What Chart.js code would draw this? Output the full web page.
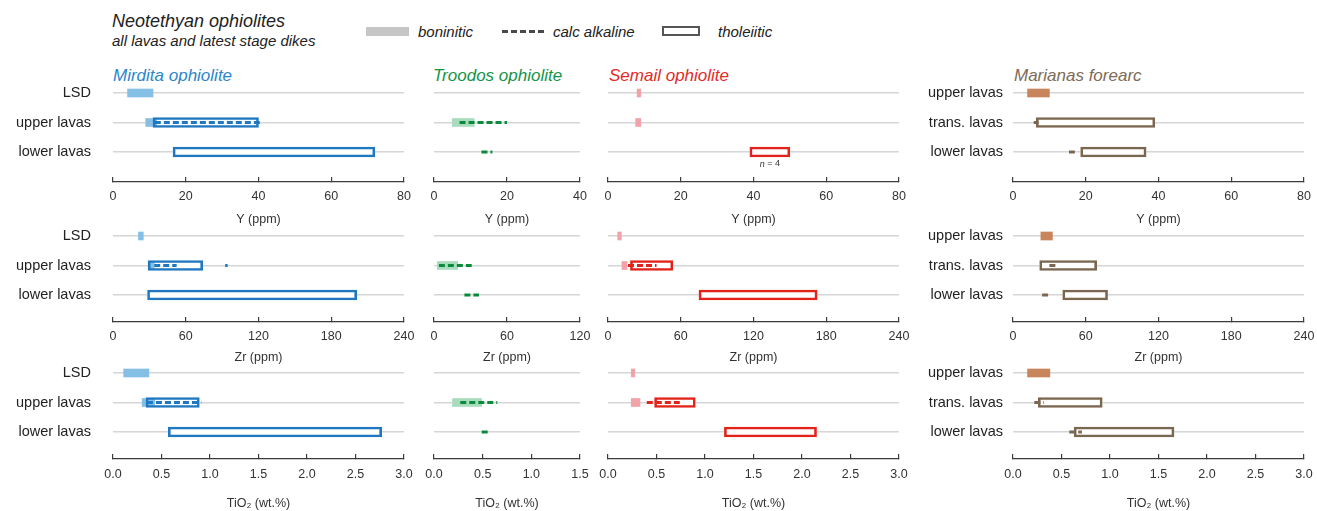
<!DOCTYPE html>
<html>
<head>
<meta charset="utf-8">
<title>Neotethyan ophiolites</title>
<script src="https://cdn.jsdelivr.net/npm/chart.js@4.4.1/dist/chart.umd.min.js"></script>
<style>
  body { margin: 0; width: 1317px; height: 511px; background: #fff; position: relative; overflow: hidden;
         font-family: 'Liberation Sans', Arial, Helvetica, sans-serif; color: #222; }
  .t { position: absolute; white-space: nowrap; line-height: 1; }
  .it { font-style: italic; }
  .sw { position: absolute; box-sizing: border-box; }
</style>
</head>
<body>

<div class="t it" style="left:112px; top:12px; font-size:18px;">Neotethyan ophiolites</div>
<div class="t it" style="left:112px; top:33px; font-size:15px;">all lavas and latest stage dikes</div>

<div class="sw" style="left:366px; top:27px; width:43px; height:9px; background:#c6c6c6;"></div>
<div class="t it" style="left:418px; top:24px; font-size:15px;">boninitic</div>
<div class="sw" style="left:502px; top:30px; width:42px; height:3px; background:repeating-linear-gradient(90deg,#4a4a4a 0 6px,transparent 6px 9px);"></div>
<div class="t it" style="left:553px; top:24px; font-size:15px;">calc alkaline</div>
<div class="sw" style="left:662px; top:26px; width:38px; height:10px; border:2px solid #555;"></div>
<div class="t it" style="left:718px; top:24px; font-size:15px;">tholeiitic</div>

<div class="t it" style="left:113px; top:67px; font-size:17px; color:#2b87c9;">Mirdita ophiolite</div>
<div class="t it" style="left:433px; top:67px; font-size:17px; color:#149447;">Troodos ophiolite</div>
<div class="t it" style="left:609px; top:67px; font-size:17px; color:#e32b26;">Semail ophiolite</div>
<div class="t it" style="left:1014px; top:67px; font-size:17px; color:#7e6b57;">Marianas forearc</div>

<script>
// row labels (index 0 = top row)
const rowLabelsOphiolite = ['LSD', 'upper lavas', 'lower lavas'];
const rowLabelsForearc = ['upper lavas', 'trans. lavas', 'lower lavas'];
const rowIndex = [0, 1, 2];

// axis ranges per column: Mirdita, Troodos, Semail, Marianas
const axisMaxY = [80, 40, 80, 80];
const axisStepY = [20, 20, 20, 20];
const axisMaxZr = [240, 120, 240, 240];
const axisStepZr = [60, 60, 60, 60];
const axisMaxTi = [3.0, 1.5, 3.0, 3.0];
const axisStepTi = [0.5, 0.5, 0.5, 0.5];
const axisTitles = ['Y (ppm)', 'Zr (ppm)', 'TiO\u2082 (wt.%)'];

// ranges as [row, low, high]
// Y (ppm)
const mirditaYBon = [[0, 4, 11], [1, 9, 12]];
const mirditaYCalc = [[1, 11.5, 41]];
const mirditaYThol = [[1, 11, 40], [2, 16.5, 72]];
const troodosYBon = [[1, 5, 11]];
const troodosYCalc = [[1, 7, 20], [2, 13, 16]];
const troodosYThol = [];
const semailYBon = [[0, 8, 9], [1, 7.6, 9]];
const semailYCalc = [];
const semailYThol = [[2, 39, 50]];
const semailYNote = { row: 2, x: 44.5, italic: 'n', text: ' = 4' };
const marianasYBon = [[0, 4, 10]];
const marianasYCalc = [[1, 5.7, 7], [2, 15.4, 17]];
const marianasYThol = [[1, 6.4, 39], [2, 18.6, 36.6]];

// Zr (ppm)
const mirditaZrBon = [[0, 21, 25], [1, 29, 34]];
const mirditaZrCalc = [[1, 34, 52.5], [1, 92.5, 94.5]];
const mirditaZrThol = [[1, 29, 74], [2, 28.5, 201]];
const troodosZrBon = [[1, 2.7, 19.5]];
const troodosZrCalc = [[1, 4, 31], [2, 25, 37]];
const troodosZrThol = [];
const semailZrBon = [[0, 8, 11], [1, 11.5, 15.7]];
const semailZrCalc = [[1, 16.5, 40]];
const semailZrThol = [[1, 18.5, 53.5], [2, 75, 172.5]];
const marianasZrBon = [[0, 23, 32.5]];
const marianasZrCalc = [[1, 30, 35], [2, 24, 30]];
const marianasZrThol = [[1, 22, 69], [2, 41, 78]];

// TiO2 (wt.%)
const mirditaTiBon = [[0, 0.11, 0.37], [1, 0.30, 0.43]];
const mirditaTiCalc = [[1, 0.35, 0.91]];
const mirditaTiThol = [[1, 0.34, 0.89], [2, 0.57, 2.77]];
const troodosTiBon = [[1, 0.19, 0.49]];
const troodosTiCalc = [[1, 0.27, 0.65], [2, 0.49, 0.58]];
const troodosTiThol = [];
const semailTiBon = [[0, 0.24, 0.275], [1, 0.24, 0.33]];
const semailTiCalc = [[1, 0.40, 0.77]];
const semailTiThol = [[1, 0.48, 0.90], [2, 1.20, 2.15]];
const marianasTiBon = [[0, 0.15, 0.38]];
const marianasTiCalc = [[1, 0.22, 0.32], [2, 0.58, 0.71]];
const marianasTiThol = [[1, 0.26, 0.92], [2, 0.63, 1.66]];

// colours per column
const palettes = [
  { main: '#1f78c1', light: '#86bfe5' },
  { main: '#0a8a3a', light: '#a9dcbc' },
  { main: '#e2231a', light: '#f2a3a9' },
  { main: '#7b6650', light: '#c8845a' }
];

Chart.defaults.font.family = "'Liberation Sans', Arial, Helvetica, sans-serif";
Chart.defaults.color = '#333';

// layout
const ROW_SP = 29.5, TOP_OFF = 15;
const rowGeom = [
  { g0: 93, gap: 30, tickC: 14.5, titleC: 37 },
  { g0: 236, gap: 27, tickC: 15, titleC: 35 },
  { g0: 373, gap: 27, tickC: 16, titleC: 44 }
];
const colGeom = [
  { plotL: 113, plotW: 291, canvasL: 0, labelPad: 22, labels: rowLabelsOphiolite },
  { plotL: 434, plotW: 146, canvasL: 418, labels: null },
  { plotL: 608, plotW: 291, canvasL: 592, labels: null },
  { plotL: 1013, plotW: 291, canvasL: 903, labelPad: 10, labels: rowLabelsForearc }
];

// small italic "n = 4" style annotation under a bar
const notePlugin = note => ({
  id: 'note',
  afterDatasetsDraw(chart) {
    const { ctx, scales: { x, y } } = chart;
    const px = x.getPixelForValue(note.x);
    const py = y.getPixelForValue(note.row) + 12;
    ctx.save();
    ctx.fillStyle = '#333';
    ctx.textBaseline = 'middle';
    ctx.textAlign = 'left';
    ctx.font = "italic 9px 'Liberation Sans', Arial, sans-serif";
    const wN = ctx.measureText(note.italic).width;
    ctx.font = "9px 'Liberation Sans', Arial, sans-serif";
    const wRest = ctx.measureText(note.text).width;
    const x0 = px - (wN + wRest) / 2;
    ctx.font = "italic 9px 'Liberation Sans', Arial, sans-serif";
    ctx.fillText(note.italic, x0, py);
    ctx.font = "9px 'Liberation Sans', Arial, sans-serif";
    ctx.fillText(note.text, x0 + wN, py);
    ctx.restore();
  }
});

const toPoints = arr => arr.map(([r, lo, hi]) => ({ x: [lo, hi], y: r }));

function buildPanel(ri, ci, p) {
  const rg = rowGeom[ri], cg = colGeom[ci], pal = palettes[ci];
  const areaH = TOP_OFF + 2 * ROW_SP + rg.gap;
  const W = cg.plotL - cg.canvasL + cg.plotW + 13;
  const H = Math.round(areaH + rg.titleC + 7.5);
  const yW = cg.labels ? cg.plotL - cg.canvasL : 0;
  const padL = cg.labels ? 0 : cg.plotL - cg.canvasL;

  const canvas = document.createElement('canvas');
  canvas.width = W;
  canvas.height = H;
  canvas.style.cssText = `position:absolute;left:${cg.canvasL}px;top:${rg.g0 - TOP_OFF}px;width:${W}px;height:${H}px;`;
  document.body.appendChild(canvas);

  const datasets = [
    // tholeiitic fill (under everything)
    { type: 'bar', data: toPoints(p.thol), backgroundColor: '#ffffff', barThickness: 10, grouped: false, order: 3 },
    // boninitic
    { type: 'bar', data: toPoints(p.bon), backgroundColor: pal.light, barThickness: 8, grouped: false, order: 2 },
    // tholeiitic outline
    { type: 'bar', data: toPoints(p.thol), backgroundColor: 'rgba(0,0,0,0)', borderColor: pal.main, borderWidth: 2,
      borderSkipped: false, barThickness: 10, grouped: false, order: 1 }
  ];
  // calc alkaline dashed segments
  p.calc.forEach(([r, lo, hi]) => {
    datasets.push({
      type: 'line', data: [{ x: lo, y: r }, { x: hi, y: r }],
      borderColor: pal.main, borderWidth: 3, borderDash: [6, 3], borderCapStyle: 'butt',
      pointRadius: 0, tension: 0, order: 0
    });
  });

  new Chart(canvas, {
    type: 'bar',
    data: { datasets },
    options: {
      indexAxis: 'y',
      responsive: false,
      animation: false,
      devicePixelRatio: 1,
      events: [],
      layout: { padding: { left: padL, right: 13, top: 0, bottom: 0 } },
      plugins: { legend: { display: false }, tooltip: { enabled: false } },
      scales: {
        x: {
          type: 'linear', position: 'bottom', min: 0, max: p.max, bounds: 'data',
          ticks: {
            stepSize: p.step, autoSkip: false, maxRotation: 0, padding: rg.tickC - 2.5,
            font: { size: 12.5 }, color: '#333',
            callback: v => v.toFixed(p.decimals)
          },
          grid: { drawOnChartArea: false, drawTicks: true, tickLength: -5, color: '#3c3c3c', lineWidth: 1.2 },
          border: { display: true, color: '#3c3c3c', width: 1.3 },
          title: { display: true, text: axisTitles[ri], font: { size: 12.5 }, color: '#333', padding: 0 },
          afterFit: s => {
            s.height = H - areaH;
            s.paddingLeft = 0; s.paddingRight = 0; s.paddingTop = 0; s.paddingBottom = 0;
          }
        },
        y: {
          type: 'linear', position: 'left', reverse: true, bounds: 'data', offset: false,
          min: -TOP_OFF / ROW_SP, max: 2 + rg.gap / ROW_SP,
          afterBuildTicks: s => { s.ticks = rowIndex.map(v => ({ value: v })); },
          ticks: {
            display: !!cg.labels, autoSkip: false, padding: cg.labelPad || 0,
            font: { size: 14.5 }, color: '#222',
            callback: v => (cg.labels && cg.labels[v] !== undefined ? cg.labels[v] : '')
          },
          grid: { offset: false, drawTicks: false, color: '#d6d6d6', lineWidth: 1.6 },
          border: { display: false },
          afterFit: s => {
            s.width = yW;
            s.paddingLeft = 0; s.paddingRight = 0; s.paddingTop = 0; s.paddingBottom = 0;
          }
        }
      }
    },
    plugins: p.note ? [notePlugin(p.note)] : []
  });
}

// row 0: Y
buildPanel(0, 0, { bon: mirditaYBon, calc: mirditaYCalc, thol: mirditaYThol, max: axisMaxY[0], step: axisStepY[0], decimals: 0 });
buildPanel(0, 1, { bon: troodosYBon, calc: troodosYCalc, thol: troodosYThol, max: axisMaxY[1], step: axisStepY[1], decimals: 0 });
buildPanel(0, 2, { bon: semailYBon, calc: semailYCalc, thol: semailYThol, max: axisMaxY[2], step: axisStepY[2], decimals: 0, note: semailYNote });
buildPanel(0, 3, { bon: marianasYBon, calc: marianasYCalc, thol: marianasYThol, max: axisMaxY[3], step: axisStepY[3], decimals: 0 });
// row 1: Zr
buildPanel(1, 0, { bon: mirditaZrBon, calc: mirditaZrCalc, thol: mirditaZrThol, max: axisMaxZr[0], step: axisStepZr[0], decimals: 0 });
buildPanel(1, 1, { bon: troodosZrBon, calc: troodosZrCalc, thol: troodosZrThol, max: axisMaxZr[1], step: axisStepZr[1], decimals: 0 });
buildPanel(1, 2, { bon: semailZrBon, calc: semailZrCalc, thol: semailZrThol, max: axisMaxZr[2], step: axisStepZr[2], decimals: 0 });
buildPanel(1, 3, { bon: marianasZrBon, calc: marianasZrCalc, thol: marianasZrThol, max: axisMaxZr[3], step: axisStepZr[3], decimals: 0 });
// row 2: TiO2
buildPanel(2, 0, { bon: mirditaTiBon, calc: mirditaTiCalc, thol: mirditaTiThol, max: axisMaxTi[0], step: axisStepTi[0], decimals: 1 });
buildPanel(2, 1, { bon: troodosTiBon, calc: troodosTiCalc, thol: troodosTiThol, max: axisMaxTi[1], step: axisStepTi[1], decimals: 1 });
buildPanel(2, 2, { bon: semailTiBon, calc: semailTiCalc, thol: semailTiThol, max: axisMaxTi[2], step: axisStepTi[2], decimals: 1 });
buildPanel(2, 3, { bon: marianasTiBon, calc: marianasTiCalc, thol: marianasTiThol, max: axisMaxTi[3], step: axisStepTi[3], decimals: 1 });
</script>
</body>
</html>
